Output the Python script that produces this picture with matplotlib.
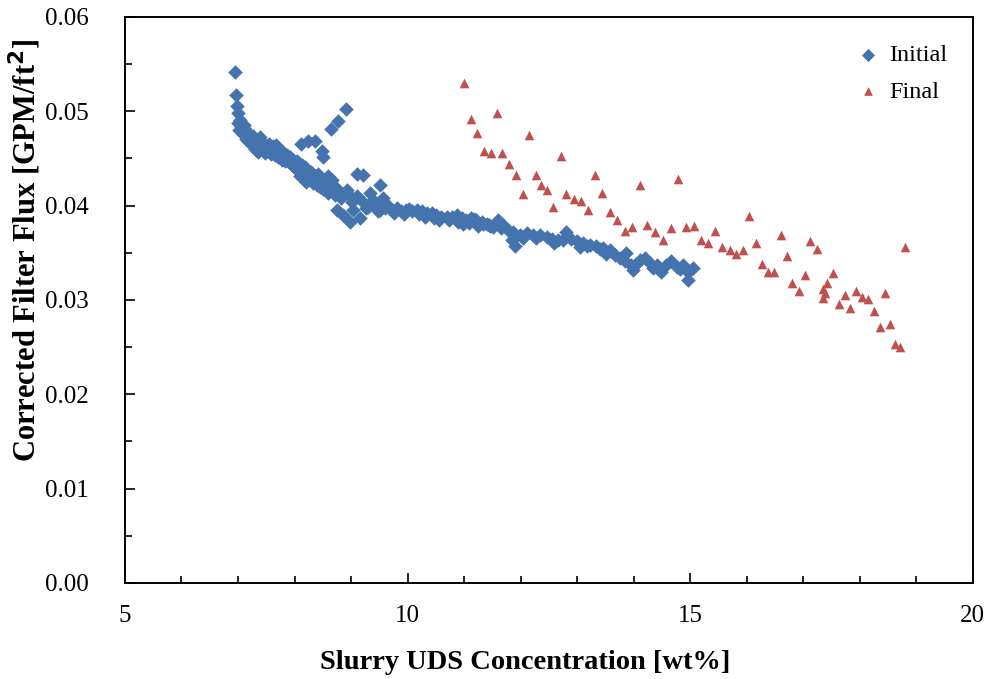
import matplotlib.pyplot as plt
from matplotlib.ticker import MultipleLocator, FormatStrFormatter

plt.rcParams['font.family'] = ['Liberation Serif', 'DejaVu Serif']

# Initial run: UDS concentration (wt%) and corrected flux (GPM/ft2)
initial_x = [6.95, 6.96, 6.98, 7.00, 7.03, 7.00, 7.05, 7.02, 7.11, 7.15,
             7.21, 7.14, 7.27, 7.24, 7.33, 7.39, 7.36, 7.45, 7.51, 7.48,
             7.56, 7.62, 7.68, 7.65, 7.74, 7.80, 7.77, 7.86, 7.92, 7.83,
             7.98, 8.04, 7.95, 8.13, 8.04, 8.18, 8.10, 8.21, 8.30, 8.21,
             8.36, 8.42, 8.33, 8.48, 8.54, 8.45, 8.60, 8.66, 8.66, 8.71,
             8.60, 8.77, 8.83, 8.92, 8.71,
             8.11, 8.23, 8.36, 8.48, 8.51, 8.64, 8.77, 8.91, 9.10, 9.22,
             9.51, 8.83, 8.92, 8.75, 8.86, 8.98, 9.04, 9.16, 9.01, 9.10,
             9.22, 9.27, 9.33, 9.39, 9.45, 9.57, 9.51, 9.63, 9.72, 9.81,
             9.89, 9.98, 10.07, 10.16, 10.25, 10.34, 10.43, 10.51, 10.60, 10.69,
             10.78, 10.87, 10.96, 11.04, 11.13, 11.22, 11.31, 11.40, 11.25, 10.98,
             11.34, 11.46, 11.60, 11.69, 11.78, 11.87, 11.90, 11.84, 11.99, 12.11,
             12.22, 12.34, 12.46, 12.55, 12.66, 12.81, 12.75, 12.90, 12.99, 13.11,
             13.17, 13.23, 13.34, 13.46, 13.58, 13.67, 13.76, 13.87, 13.84, 13.99,
             13.96, 14.11, 14.20, 14.29, 14.41, 14.49, 14.58, 14.67, 14.76, 14.88,
             14.96, 15.05, 14.96,
             7.09, 7.18, 7.30, 7.42, 7.58, 7.70, 7.90, 8.07, 8.27, 8.40,
             9.30, 9.42, 9.60, 9.68, 9.93, 10.20, 10.47, 10.73, 11.08, 11.52,
             11.65, 12.05, 12.28, 12.60, 13.05, 13.40, 13.52, 14.05, 14.35, 14.82,
             7.12, 7.26, 7.36, 7.54, 7.66, 7.84, 8.00, 8.16, 8.30, 8.50,
             9.36, 9.48, 9.55, 9.76, 10.02, 10.30, 10.56, 10.90, 11.18, 11.44]
initial_y = [0.0542, 0.0517, 0.0506, 0.0498, 0.0491, 0.0488, 0.0483, 0.0480, 0.0486, 0.0478,
             0.0473, 0.0471, 0.0470, 0.0464, 0.0463, 0.0473, 0.0457, 0.0466, 0.0463, 0.0456,
             0.0459, 0.0463, 0.0464, 0.0454, 0.0459, 0.0457, 0.0448, 0.0454, 0.0452, 0.0447,
             0.0448, 0.0447, 0.0443, 0.0443, 0.0438, 0.0441, 0.0431, 0.0432, 0.0436, 0.0425,
             0.0431, 0.0434, 0.0424, 0.0427, 0.0425, 0.0420, 0.0431, 0.0427, 0.0418, 0.0420,
             0.0413, 0.0417, 0.0413, 0.0417, 0.0411,
             0.0465, 0.0469, 0.0468, 0.0458, 0.0452, 0.0481, 0.0490, 0.0502, 0.0434, 0.0433,
             0.0422, 0.0408, 0.0413, 0.0395, 0.0390, 0.0383, 0.0395, 0.0387, 0.0404, 0.0410,
             0.0404, 0.0397, 0.0413, 0.0406, 0.0401, 0.0408, 0.0395, 0.0401, 0.0395, 0.0397,
             0.0394, 0.0395, 0.0394, 0.0395, 0.0394, 0.0392, 0.0392, 0.0390, 0.0388, 0.0388,
             0.0388, 0.0390, 0.0387, 0.0385, 0.0387, 0.0385, 0.0383, 0.0381, 0.0378, 0.0381,
             0.0381, 0.0378, 0.0385, 0.0380, 0.0374, 0.0372, 0.0357, 0.0364, 0.0369, 0.0371,
             0.0369, 0.0369, 0.0367, 0.0365, 0.0364, 0.0372, 0.0364, 0.0365, 0.0362, 0.0360,
             0.0357, 0.0358, 0.0357, 0.0355, 0.0353, 0.0348, 0.0344, 0.0350, 0.0341, 0.0332,
             0.0337, 0.0342, 0.0344, 0.0339, 0.0337, 0.0330, 0.0337, 0.0341, 0.0335, 0.0337,
             0.0330, 0.0334, 0.0321,
             0.0476, 0.0468, 0.0460, 0.0461, 0.0455, 0.0452, 0.0446, 0.0440, 0.0430, 0.0422,
             0.0399, 0.0403, 0.0398, 0.0399, 0.0391, 0.0391, 0.0387, 0.0385, 0.0382, 0.0377,
             0.0376, 0.0366, 0.0366, 0.0360, 0.0356, 0.0354, 0.0349, 0.0338, 0.0334, 0.0333,
             0.0481, 0.0474, 0.0467, 0.0465, 0.0458, 0.0450, 0.0443, 0.0437, 0.0428, 0.0418,
             0.0402, 0.0394, 0.0404, 0.0392, 0.0396, 0.0388, 0.0385, 0.0383, 0.0386, 0.0380]

# Final run
final_x = [11.00, 11.12, 11.58, 11.23, 11.35, 11.47, 11.68, 12.15, 11.80, 11.92,
           12.04, 12.27, 12.37, 12.46, 12.71, 12.58, 12.81, 12.94, 13.07, 13.20,
           13.32, 13.44, 13.58, 13.71, 13.85, 13.97, 14.11, 14.24, 14.38, 14.52,
           14.66, 14.79, 14.92, 15.07, 15.20, 15.32, 15.44, 15.56, 15.70, 15.81,
           15.93, 16.05, 16.16, 16.27, 16.38, 16.49, 16.60, 16.71, 16.81, 16.92,
           17.03, 17.13, 17.24, 17.35, 17.38, 17.35, 17.43, 17.53, 17.63, 17.74,
           17.83, 17.94, 18.05, 18.15, 18.26, 18.36, 18.45, 18.54, 18.63, 18.72,
           18.81]
final_y = [0.0530, 0.0492, 0.0498, 0.0477, 0.0458, 0.0456, 0.0456, 0.0475, 0.0444, 0.0432,
           0.0412, 0.0433, 0.0422, 0.0417, 0.0453, 0.0399, 0.0412, 0.0407, 0.0405, 0.0395,
           0.0433, 0.0413, 0.0393, 0.0385, 0.0373, 0.0377, 0.0422, 0.0379, 0.0372, 0.0364,
           0.0376, 0.0428, 0.0377, 0.0378, 0.0364, 0.0360, 0.0373, 0.0356, 0.0353, 0.0349,
           0.0353, 0.0389, 0.0360, 0.0338, 0.0330, 0.0330, 0.0369, 0.0347, 0.0318, 0.0309,
           0.0326, 0.0362, 0.0354, 0.0312, 0.0307, 0.0302, 0.0318, 0.0329, 0.0296, 0.0305,
           0.0291, 0.0310, 0.0303, 0.0301, 0.0288, 0.0271, 0.0307, 0.0275, 0.0253, 0.0250,
           0.0356]

fig = plt.figure(figsize=(9.88, 6.79), dpi=100)
ax = fig.add_axes([0.1265, 0.1414, 0.858, 0.8336])

ax.scatter(initial_x, initial_y, marker='D', s=55, color='#4473AD', linewidths=0, label='Initial')
ax.scatter(final_x, final_y, marker='^', s=48, color='#C0504D', linewidths=0, label='Final')

ax.set_xlim(5, 20)
ax.set_ylim(0, 0.06)
ax.xaxis.set_major_locator(MultipleLocator(5))
ax.xaxis.set_minor_locator(MultipleLocator(1))
ax.yaxis.set_major_locator(MultipleLocator(0.01))
ax.yaxis.set_minor_locator(MultipleLocator(0.005))
ax.yaxis.set_major_formatter(FormatStrFormatter('%.2f'))
ax.tick_params(which='both', direction='in', labelsize=18, width=1.2)
ax.tick_params(which='major', length=7)
ax.tick_params(which='minor', length=5)
ax.tick_params(axis='x', which='major', pad=16)
ax.tick_params(axis='y', which='major', pad=26)
for sp in ax.spines.values():
    sp.set_linewidth(1.4)

ax.set_xlabel('Slurry UDS Concentration [wt%]', fontsize=20.5, fontweight='bold', va='center')
ax.set_ylabel('Corrected Filter Flux [GPM/ft$^\\mathbf{2}$]', fontsize=22, fontweight='bold', va='center')
ax.xaxis.set_label_coords(0.472, -0.1396)
ax.yaxis.set_label_coords(-0.1179, 0.587)

ax.legend(loc='upper right', frameon=False, fontsize=17.5, handlelength=1.0, handletextpad=0.4,
          borderaxespad=0.6, labelspacing=0.6, markerscale=0.9, bbox_to_anchor=(0.999, 0.995))

fig.savefig('out.png', dpi=100)
